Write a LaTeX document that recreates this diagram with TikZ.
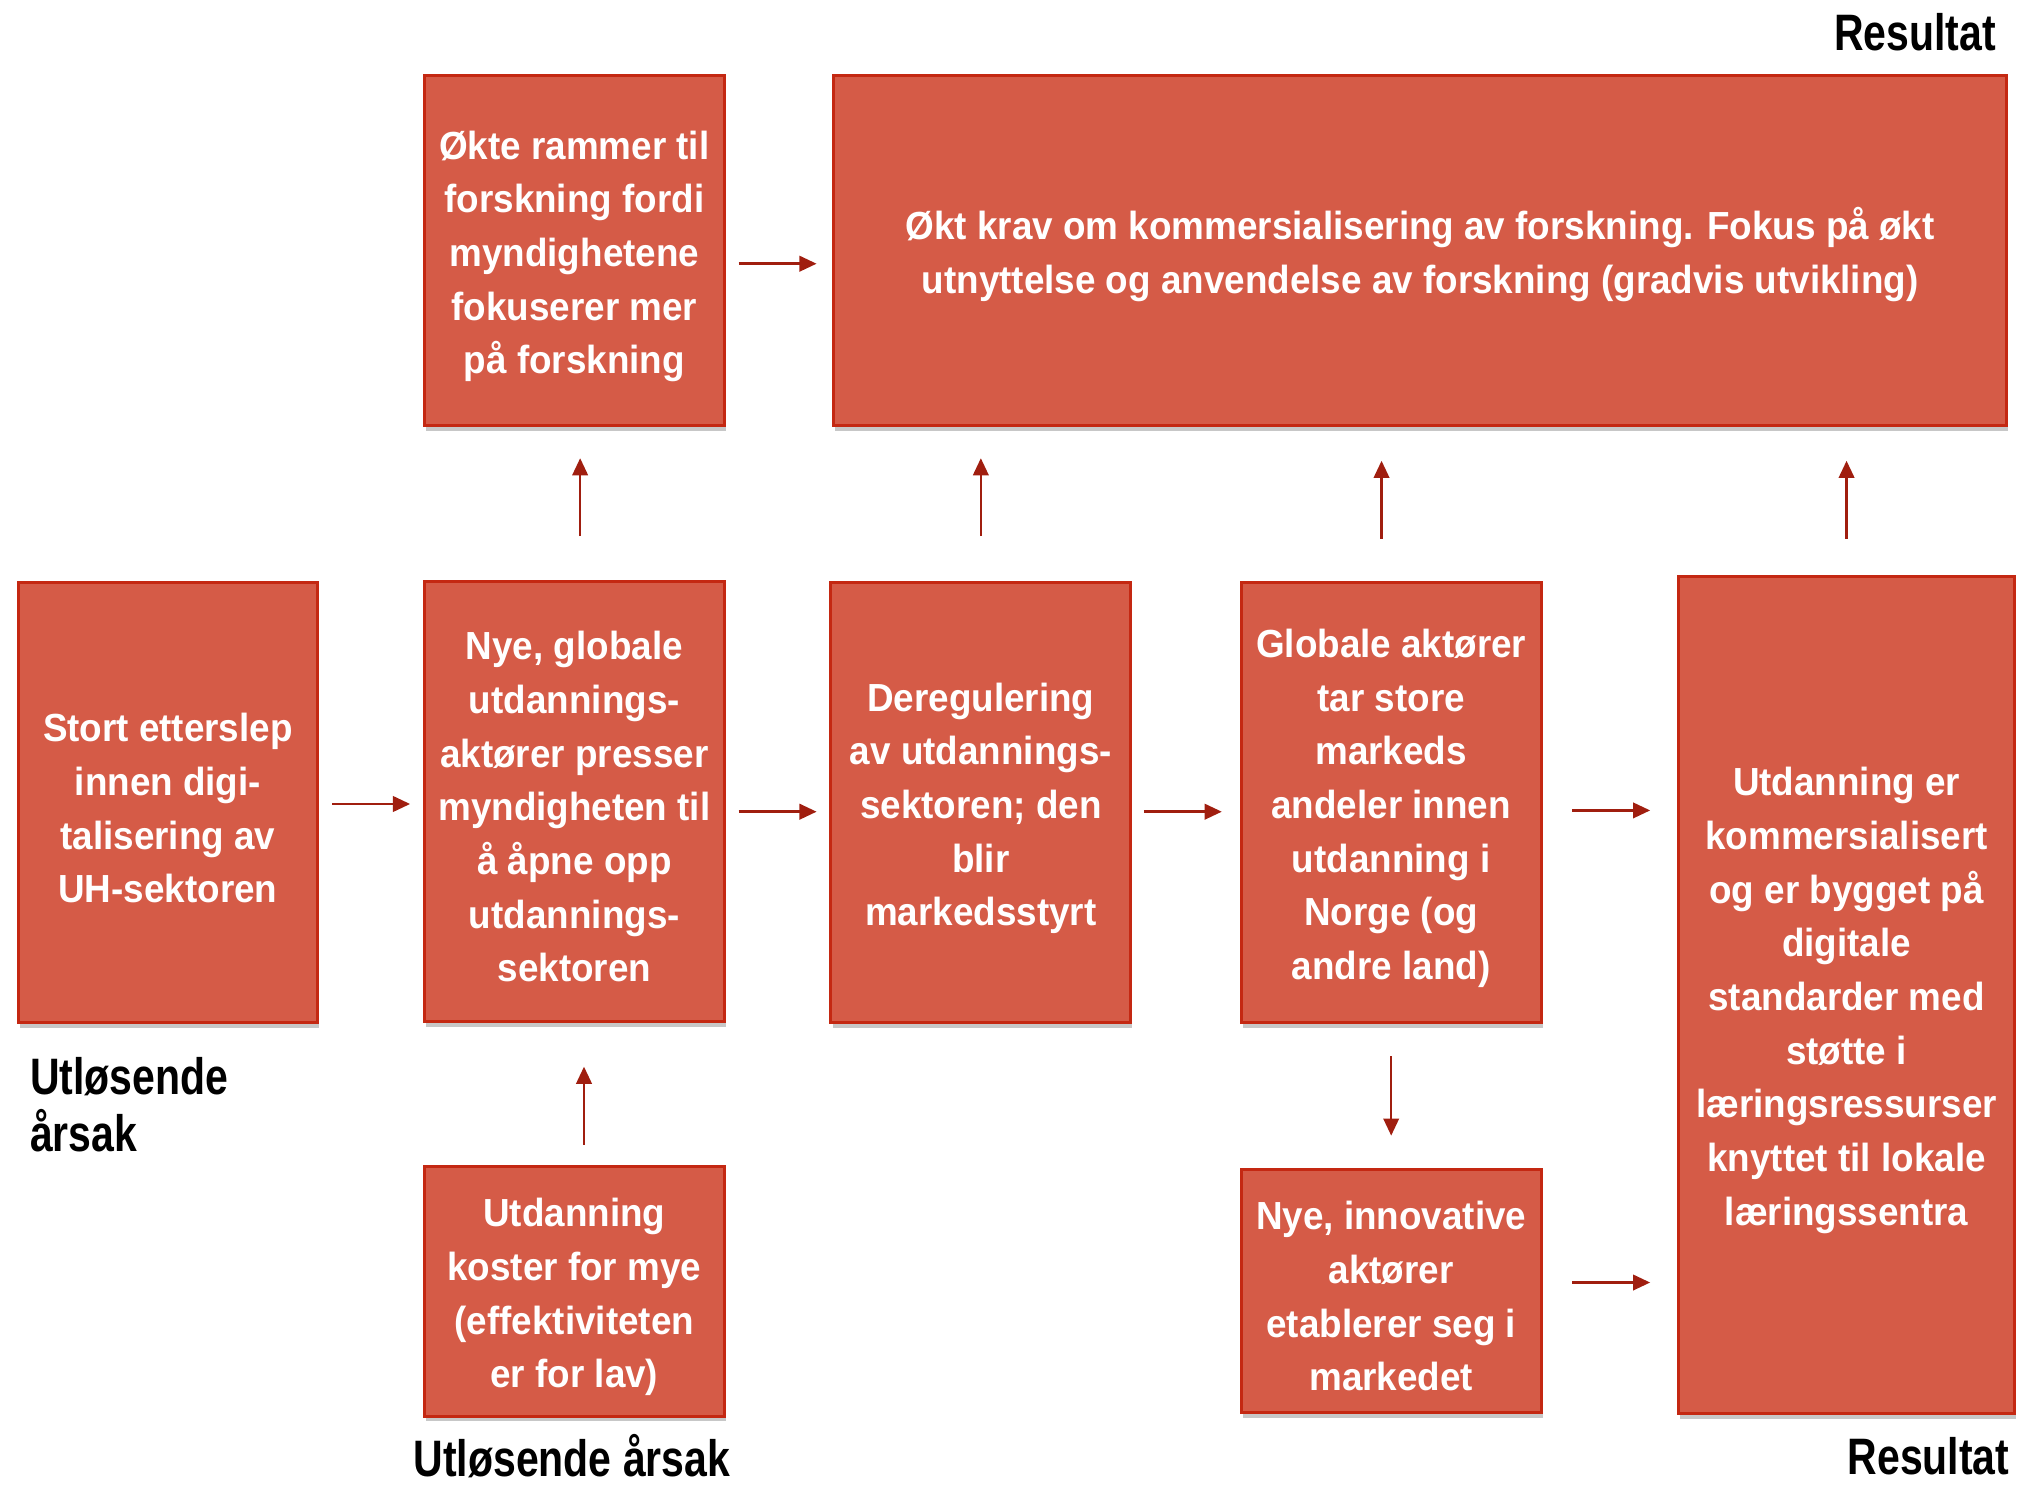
\documentclass[tikz,border=0pt]{standalone}
\usepackage{fontspec}
\setmainfont{Liberation Sans}[FakeStretch=0.94]
\newfontfamily\lblfont{Liberation Sans}[FakeStretch=0.8]
\usetikzlibrary{arrows.meta,shadows}
\definecolor{boxfill}{RGB}{213,91,71}
\definecolor{boxline}{RGB}{196,40,18}
\definecolor{arrowred}{RGB}{160,30,15}
% a taller first line pushes the centred text block slightly down
\newcommand\boxtop{\rule{0pt}{4.6mm}}

\begin{document}
\begin{tikzpicture}[x=0.15mm,y=-0.15mm,
  box/.style={draw=boxline, line width=0.35mm, fill=boxfill, text=white,
    align=center, font=\fontsize{13}{17.8}\selectfont\bfseries, inner sep=0pt,
    drop shadow={shadow xshift=0.2mm, shadow yshift=-0.6mm, opacity=0.22, fill=black}},
  arr/.style={draw=arrowred, line width=0.3mm, -{Triangle[length=2mm,width=1.8mm]}},
  lbl/.style={font=\lblfont\fontsize{17}{19}\selectfont\bfseries, inner sep=0pt}]
\useasboundingbox (0,0) rectangle (1568,1154);

% top row
\node[box, minimum width=34.95mm, minimum height=40.8mm] (okte) at (446.5,195)
  {\boxtop Økte rammer til\\forskning fordi\\myndighetene\\fokuserer mer\\på forskning};
\node[box, minimum width=136.8mm, minimum height=40.8mm] (oktkrav) at (1104,195)
  {\boxtop Økt krav om kommersialisering av forskning. Fokus på økt\\utnyttelse og anvendelse av forskning (gradvis utvikling)};

% middle row
\node[box, minimum width=34.95mm, minimum height=51.3mm] (stort) at (130.5,624)
  {\boxtop Stort etterslep\\innen digi-\\talisering av\\UH-sektoren};
\node[box, minimum width=34.95mm, minimum height=51.3mm] (nye) at (446.5,623)
  {\boxtop Nye, globale\\utdannings-\\aktører presser\\myndigheten til\\å åpne opp\\utdannings-\\sektoren};
\node[box, minimum width=34.95mm, minimum height=51.3mm] (dereg) at (762.5,624)
  {\boxtop Deregulering\\av utdannings-\\sektoren; den\\blir\\markedsstyrt};
\node[box, minimum width=34.95mm, minimum height=51.3mm] (globale) at (1081.5,624)
  {\boxtop Globale aktører\\tar store\\markeds\\andeler innen\\utdanning i\\Norge (og\\andre land)};
\node[box, minimum width=39.15mm, minimum height=97.65mm] (utder) at (1435.5,773.5)
  {\boxtop Utdanning er\\kommersialisert\\og er bygget på\\digitale\\standarder med\\støtte i\\læringsressurser\\knyttet til lokale\\læringssentra};

% bottom row
\node[box, minimum width=34.95mm, minimum height=29.1mm] (koster) at (446.5,1004)
  {\boxtop Utdanning\\koster for mye\\(effektiviteten\\er for lav)};
\node[box, minimum width=34.95mm, minimum height=28.35mm] (innov) at (1081.5,1003.5)
  {\boxtop Nye, innovative\\aktører\\etablerer seg i\\markedet};

% horizontal arrows
\draw[arr] ([shift={(10,1)}]stort.east) -- ([shift={(-10,2)}]nye.west);
\draw[arr] ([shift={(10,8)}]nye.east) -- ([shift={(-10,7)}]dereg.west);
\draw[arr] ([shift={(9,7)}]dereg.east) -- ([shift={(-14,7)}]globale.west);
\path ([shift={(23,6)}]globale.east) coordinate (g1);
\draw[arr, shorten >=3.15mm] (g1) -- (g1 -| utder.west);
\path ([shift={(23,-6.5)}]innov.east) coordinate (i1);
\draw[arr, shorten >=3.15mm] (i1) -- (i1 -| utder.west);
\draw[arr] ([shift={(10,10)}]okte.east) -- ([shift={(-12,10)}]oktkrav.west);

% vertical arrows
\draw[arr] ([shift={(4.5,-34)}]nye.north) -- ([shift={(4.5,24)}]okte.south);
\draw[arr, shorten <=5.25mm, shorten >=3.6mm] (dereg.north) -- (dereg.north |- oktkrav.south);
\path ([shift={(-7.5,0)}]globale.north) coordinate (g2);
\draw[arr, shorten <=4.95mm, shorten >=3.9mm] (g2) -- (g2 |- oktkrav.south);
\draw[arr, shorten <=4.2mm, shorten >=3.9mm] (utder.north) -- (utder.north |- oktkrav.south);
\draw[arr] ([shift={(7.5,-16)}]koster.north) -- ([shift={(7.5,34)}]nye.south);
\draw[arr] ([shift={(0,25)}]globale.south) -- ([shift={(0,-25)}]innov.north);

% labels
\node[lbl, anchor=base east] (res1) at (1552,39) {Resultat};
\node[lbl, anchor=base east] (res2) at (1562.5,1146.6) {Resultat};
\node[lbl, anchor=base west] (ua) at (321,1148) {Utløsende årsak};
\node[lbl, anchor=base west] (ub1) at (23,851) {Utløsende};
\node[lbl, anchor=base west] (ub2) at (23,895.5) {årsak};
\end{tikzpicture}
\end{document}
